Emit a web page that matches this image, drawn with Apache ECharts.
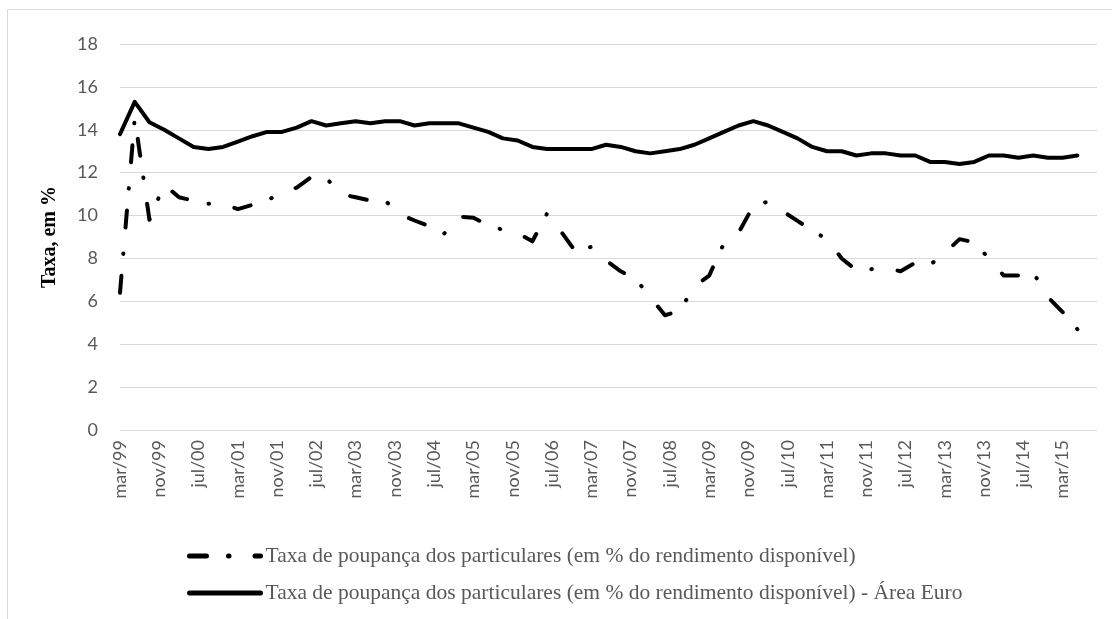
<!DOCTYPE html>
<html>
<head>
<meta charset="utf-8">
<script src="https://cdn.jsdelivr.net/npm/echarts@6/dist/echarts.min.js"></script>
<style>
  html, body { margin: 0; padding: 0; background: #fff; }
  #chart { width: 1112px; height: 619px; }
</style>
</head>
<body>
<div id="chart"></div>
<script>
// ---- Data (quarterly, mar/99 .. jun/15) ----
const monthNames = ['jan','fev','mar','abr','mai','jun','jul','ago','set','out','nov','dez'];

const tickLabels = ['mar/99','nov/99','jul/00','mar/01','nov/01','jul/02','mar/03','nov/03',
  'jul/04','mar/05','nov/05','jul/06','mar/07','nov/07','jul/08','mar/09','nov/09','jul/10',
  'mar/11','nov/11','jul/12','mar/13','nov/13','jul/14','mar/15'];

const portugal = [6.4,14.55,9.8,11.45,10.85,10.7,10.55,10.55,10.3,10.5,
  10.7,11.1,11.3,11.8,11.75,11.0,10.85,10.7,10.7,10.05,
  9.77,9.5,9.15,9.95,9.9,9.55,9.33,9.18,8.8,10.1,
  9.2,8.25,8.55,7.9,7.4,7.05,6.2,5.35,5.55,6.7,
  7.2,8.7,9.2,10.45,10.65,10.2,9.75,9.3,8.9,8.0,
  7.45,7.5,7.55,7.4,7.8,7.7,8.25,8.9,8.75,8.0,
  7.2,7.2,7.35,6.2,5.5,4.7];

const euroArea = [13.8,15.3,14.35,14.0,13.6,13.2,13.1,13.2,13.45,13.7,
  13.9,13.9,14.1,14.4,14.2,14.3,14.4,14.3,14.4,14.4,
  14.2,14.3,14.3,14.3,14.1,13.9,13.6,13.5,13.2,13.1,
  13.1,13.1,13.1,13.3,13.2,13.0,12.9,13.0,13.1,13.3,
  13.6,13.9,14.2,14.4,14.2,13.9,13.6,13.2,13.0,13.0,
  12.8,12.9,12.9,12.8,12.8,12.5,12.5,12.4,12.5,12.8,
  12.8,12.7,12.8,12.7,12.7,12.8];

const seriesNames = [
  'Taxa de poupança dos particulares (em % do rendimento disponível)',
  'Taxa de poupança dos particulares (em % do rendimento disponível) - Área Euro'
];

// monthly date axis: mar/99 .. oct/15
function monthLabel(k) { // k months after jan/99
  const m = k % 12, y = 99 + Math.floor(k / 12);
  return monthNames[m] + '/' + String(y % 100).padStart(2, '0');
}
const axisMonths = [];
for (let k = 2; k <= 2 + 199; k++) axisMonths.push(monthLabel(k));

const quarterCategories = portugal.map((_, i) => monthLabel(2 + 3 * i));

function toMonthly(values) {
  const map = {};
  quarterCategories.forEach((c, i) => { map[c] = values[i]; });
  return axisMonths.map(c => (c in map ? map[c] : null));
}

const chart = echarts.init(document.getElementById('chart'), null, { renderer: 'canvas' });
const labelFont = 'Lato';
chart.setOption({
  animation: false,
  backgroundColor: '#fff',
  graphic: [{
    type: 'rect', silent: true, z: -1,
    shape: { x: 7.5, y: 9.5, width: 1300, height: 800 },
    style: { fill: 'none', stroke: '#d9d9d9', lineWidth: 1 }
  }],
  grid: { left: 120, right: 15, top: 44, bottom: 189, containLabel: false },
  legend: {
    orient: 'vertical', left: 187, top: 545, padding: 0,
    itemWidth: 71, itemHeight: 14, itemGap: 15,
    selectedMode: false,
    itemStyle: { opacity: 0 },
    lineStyle: { width: 5, cap: 'round' },
    textStyle: { fontFamily: 'Liberation Serif', fontSize: 21.5, color: '#595959' },
    data: seriesNames
  },
  xAxis: {
    type: 'category', data: axisMonths, boundaryGap: false,
    axisLine: { show: true, lineStyle: { color: '#d9d9d9', width: 1 } },
    axisTick: { show: false },
    splitLine: { show: false },
    axisLabel: {
      rotate: 90, margin: 10,
      interval: (idx, val) => tickLabels.includes(val),
      color: '#595959', fontFamily: labelFont, fontSize: 18
    }
  },
  yAxis: {
    type: 'value', min: 0, max: 18, interval: 2,
    axisLine: { show: false }, axisTick: { show: false },
    splitLine: { lineStyle: { color: '#d9d9d9', width: 1 } },
    axisLabel: { color: '#595959', fontFamily: labelFont, fontSize: 18, margin: 22 },
    name: 'Taxa, em %', nameLocation: 'middle', nameGap: 60,
    nameTextStyle: { fontFamily: 'Liberation Serif', fontWeight: 'bold', fontSize: 20, color: '#000' }
  },
  series: [
    {
      name: seriesNames[0], type: 'line', data: toMonthly(portugal),
      connectNulls: true, symbol: 'none', showSymbol: false, silent: true,
      itemStyle: { color: '#000' },
      lineStyle: { color: '#000', width: 4, type: [17, 22, 0.5, 26], cap: 'round', join: 'round' }
    },
    {
      name: seriesNames[1], type: 'line', data: toMonthly(euroArea),
      connectNulls: true, symbol: 'none', showSymbol: false, silent: true,
      itemStyle: { color: '#000' },
      lineStyle: { color: '#000', width: 4, type: 'solid', cap: 'round', join: 'round' }
    }
  ]
});
</script>
</body>
</html>
